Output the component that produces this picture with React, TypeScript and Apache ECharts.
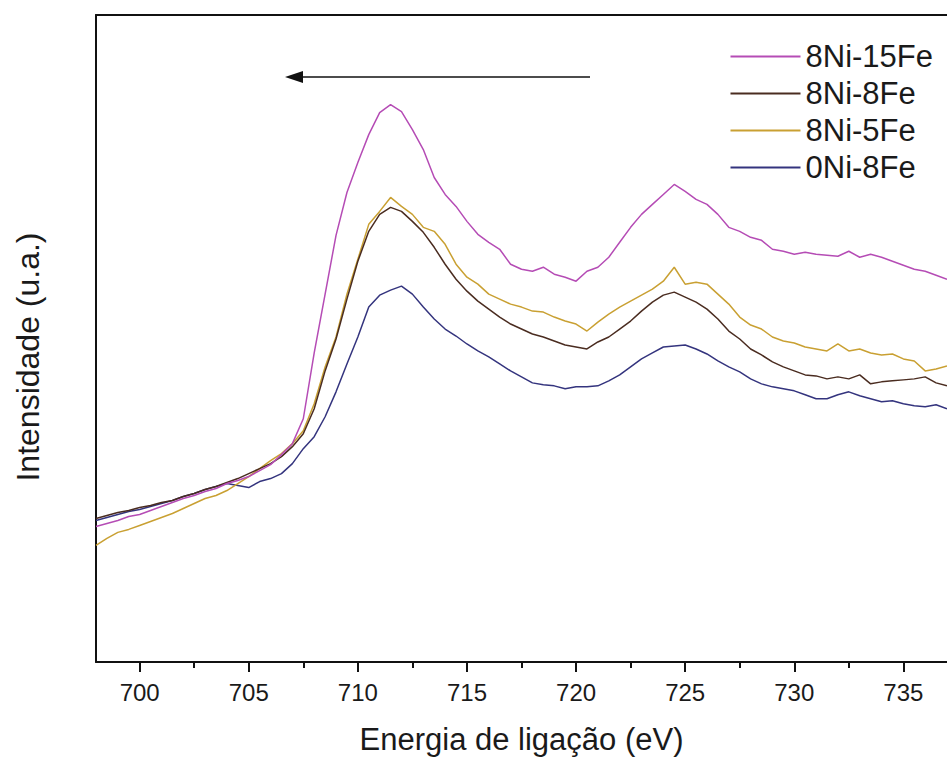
import React, { useEffect, useRef } from "react";
import * as echarts from "echarts";

const energy: number[] = [
  698, 698.5, 699, 699.5, 700, 700.5, 701, 701.5, 702, 702.5, 703, 703.5, 704, 704.5, 705, 705.5,
  706, 706.5, 707, 707.5, 708, 708.5, 709, 709.5, 710, 710.5, 711, 711.5, 712, 712.5, 713, 713.5,
  714, 714.5, 715, 715.5, 716, 716.5, 717, 717.5, 718, 718.5, 719, 719.5, 720, 720.5, 721, 721.5,
  722, 722.5, 723, 723.5, 724, 724.5, 725, 725.5, 726, 726.5, 727, 727.5, 728, 728.5, 729, 729.5,
  730, 730.5, 731, 731.5, 732, 732.5, 733, 733.5, 734, 734.5, 735, 735.5, 736, 736.5, 737,
];

const ni8fe15: number[] = [
  136, 139, 142, 146, 148, 152, 156, 160, 164, 167, 171, 174, 179, 182, 186, 192,
  198, 208, 219, 244, 310, 369, 428, 471, 501, 529, 551, 559, 552, 534, 514, 486,
  469, 457, 442, 429, 421, 414, 399, 394, 392, 396, 389, 386, 382, 392, 396, 406,
  421, 436, 449, 459, 469, 479, 472, 464, 459, 449, 436, 432, 426, 423, 414, 412,
  409, 411, 409, 408, 407, 412, 406, 409, 406, 402, 398, 394, 392, 388, 384,
];

const ni8fe8: number[] = [
  144, 147, 150, 152, 155, 157, 160, 162, 166, 169, 173, 176, 180, 184, 189, 194,
  199, 206, 216, 229, 254, 292, 324, 364, 402, 432, 449, 456, 452, 442, 431, 416,
  399, 384, 372, 362, 354, 346, 339, 334, 329, 326, 322, 318, 316, 314, 321, 326,
  334, 342, 352, 361, 368, 371, 366, 361, 354, 344, 332, 324, 314, 308, 301, 296,
  292, 288, 287, 284, 286, 284, 288, 279, 281, 282, 283, 284, 286, 280, 277,
];

const ni8fe5: number[] = [
  117, 124, 130, 133, 137, 141, 145, 149, 154, 159, 164, 167, 172, 179, 186, 194,
  202, 209, 219, 232, 259, 296, 326, 369, 404, 439, 452, 466, 457, 449, 436, 432,
  419, 399, 386, 379, 369, 364, 359, 356, 352, 351, 346, 342, 339, 332, 341, 349,
  356, 362, 368, 374, 382, 396, 379, 381, 379, 369, 359, 346, 338, 334, 326, 322,
  320, 316, 314, 312, 319, 312, 314, 310, 308, 309, 304, 302, 292, 294, 297,
];

const ni0fe8: number[] = [
  142, 145, 148, 151, 153, 156, 159, 162, 166, 169, 173, 176, 179, 177, 175, 181,
  184, 189, 199, 214, 226, 246, 271, 299, 326, 356, 368, 373, 377, 369, 356, 344,
  334, 327, 319, 312, 306, 299, 292, 286, 280, 278, 277, 274, 276, 276, 277, 282,
  288, 296, 304, 310, 316, 317, 318, 314, 309, 302, 296, 291, 284, 279, 276, 274,
  272, 268, 264, 264, 268, 271, 267, 264, 261, 262, 259, 257, 256, 258, 254,
];

const seriesNames: string[] = ["8Ni-15Fe", "8Ni-8Fe", "8Ni-5Fe", "0Ni-8Fe"];
const seriesColors: string[] = ["#b54cb5", "#4a2c20", "#c9a032", "#34347e"];
const majorTicks: number[] = [700, 705, 710, 715, 720, 725, 730, 735];
const minorTicks: number[] = [702.5, 707.5, 712.5, 717.5, 722.5, 727.5, 732.5];

const FONT = "'Liberation Sans', Arial, sans-serif";

export default function App() {
  const ref = useRef<HTMLDivElement>(null);

  useEffect(() => {
    if (!ref.current) return;
    const chart = echarts.init(ref.current, null, { renderer: "svg" });
    const allData = [ni8fe15, ni8fe8, ni8fe5, ni0fe8];
    const series = allData.map((vals, i) => ({
      name: seriesNames[i],
      type: "line",
      xAxisIndex: 0,
      data: energy.map((x, j) => [x, vals[j]]),
      symbol: "none",
      showSymbol: false,
      lineStyle: { width: 1.5, color: seriesColors[i] },
      itemStyle: { color: seriesColors[i] },
      z: 10 - i,
    }));

    chart.setOption({
      animation: false,
      backgroundColor: "#ffffff",
      textStyle: { fontFamily: FONT },
      grid: { left: 96, top: 15, right: 0, bottom: 96, containLabel: false },
      legend: {
        orient: "vertical",
        right: 9,
        top: 36,
        icon: "rect",
        itemWidth: 70,
        itemHeight: 2,
        itemGap: 6,
        data: seriesNames,
        textStyle: { fontFamily: FONT, fontSize: 31, color: "#1a1a1a", padding: [0, 0, 0, 0] },
      },
      xAxis: [
        {
          type: "value",
          position: "bottom",
          min: 698,
          max: 737,
          name: "Energia de ligação (eV)",
          nameLocation: "middle",
          nameGap: 62,
          nameTextStyle: { fontFamily: FONT, fontSize: 31, color: "#1a1a1a" },
          axisLine: { show: true, onZero: false, lineStyle: { color: "#111", width: 2 } },
          axisTick: { show: true, inside: false, length: 10, customValues: majorTicks, lineStyle: { color: "#111", width: 2 } },
          axisLabel: { show: true, customValues: majorTicks, margin: 18, fontFamily: FONT, fontSize: 24, color: "#1a1a1a" },
          splitLine: { show: false },
        },
        {
          type: "value",
          position: "bottom",
          min: 698,
          max: 737,
          axisLine: { show: false, onZero: false },
          axisTick: { show: true, inside: false, length: 6, customValues: minorTicks, lineStyle: { color: "#111", width: 2 } },
          axisLabel: { show: false },
          splitLine: { show: false },
        },
        {
          type: "value",
          position: "top",
          min: 698,
          max: 737,
          axisLine: { show: true, onZero: false, lineStyle: { color: "#111", width: 2 } },
          axisTick: { show: false },
          axisLabel: { show: false },
          splitLine: { show: false },
        },
      ],
      yAxis: {
        type: "value",
        min: 0,
        max: 649,
        axisLine: { show: true, onZero: false, lineStyle: { color: "#111", width: 2 } },
        axisTick: { show: false },
        axisLabel: { show: false },
        splitLine: { show: false },
      },
      graphic: [
        {
          type: "text",
          x: 28,
          y: 357,
          rotation: Math.PI / 2,
          style: {
            text: "Intensidade (u.a.)",
            fontFamily: FONT,
            fontSize: 32,
            fill: "#1a1a1a",
            align: "center",
            verticalAlign: "middle",
          },
        },
        {
          type: "line",
          shape: { x1: 298, y1: 77, x2: 590, y2: 77 },
          style: { stroke: "#111", lineWidth: 1.5 },
        },
        {
          type: "polygon",
          shape: { points: [[285, 77], [303, 71], [303, 83]] },
          style: { fill: "#111" },
        },
      ],
      series,
    });

    return () => chart.dispose();
  }, []);

  return (
    <div
      ref={ref}
      style={{ position: "absolute", left: 0, top: 0, width: 947, height: 760 }}
    />
  );
}
